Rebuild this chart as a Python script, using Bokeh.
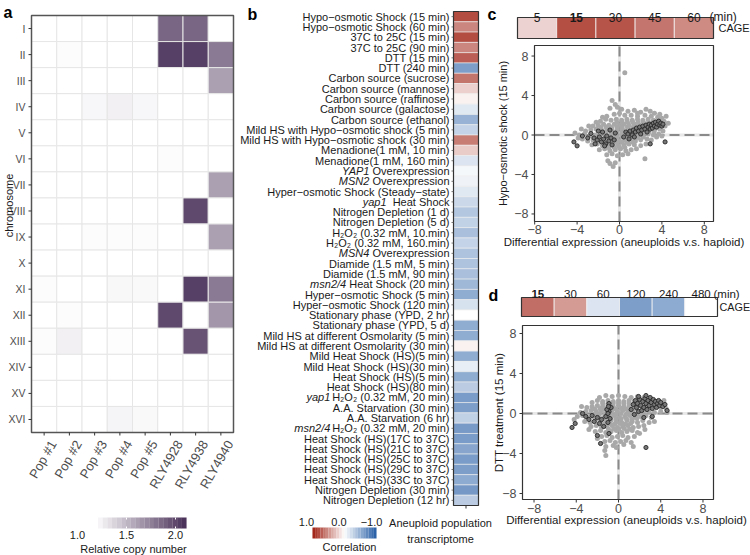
import numpy as np
from bokeh.plotting import figure
from bokeh.models import Range1d, LinearColorMapper, ColumnDataSource
from bokeh.embed import file_html
from bokeh.resources import INLINE
from bokeh.transform import transform
from bokeh.core.properties import value

FONT = "Liberation Sans"
W, H = 750, 555

# ---------------- data: panel a (relative copy number) ----------------
chromosomes = ["I", "II", "III", "IV", "V", "VI", "VII", "VIII", "IX", "X",
               "XI", "XII", "XIII", "XIV", "XV", "XVI"]
strains = ["Pop #1", "Pop #2", "Pop #3", "Pop #4", "Pop #5", "RLY4928", "RLY4938", "RLY4940"]
#             I     II    III   IV    V     VI    VII   VIII  IX    X     XI    XII   XIII  XIV   XV    XVI
cn_pop1    = [1.00, 1.00, 1.00, 1.00, 1.00, 1.00, 1.00, 1.00, 1.00, 1.00, 1.02, 1.00, 1.02, 1.00, 1.00, 1.00]
cn_pop2    = [1.00, 1.02, 1.00, 1.00, 1.00, 1.00, 1.00, 1.00, 1.00, 1.00, 1.00, 1.02, 1.08, 1.00, 1.00, 1.00]
cn_pop3    = [1.00, 1.00, 1.00, 1.05, 1.00, 1.00, 1.00, 1.00, 1.02, 1.00, 1.00, 1.00, 1.00, 1.00, 1.00, 1.00]
cn_pop4    = [1.00, 1.00, 1.00, 1.08, 1.00, 1.00, 1.00, 1.00, 1.02, 1.00, 1.04, 1.00, 1.01, 1.00, 1.00, 1.06]
cn_pop5    = [1.00, 1.00, 1.00, 1.05, 1.00, 1.00, 1.00, 1.00, 1.02, 1.00, 1.03, 1.00, 1.00, 1.00, 1.00, 1.03]
cn_rly4928 = [1.80, 2.00, 1.00, 1.00, 1.00, 1.02, 1.00, 1.00, 1.00, 1.00, 1.00, 1.95, 1.00, 1.00, 1.00, 1.00]
cn_rly4938 = [1.80, 2.00, 1.00, 1.00, 1.00, 1.00, 1.00, 1.95, 1.00, 1.00, 2.00, 1.00, 1.90, 1.00, 1.00, 1.00]
cn_rly4940 = [1.00, 1.70, 1.50, 1.00, 1.00, 1.00, 1.50, 1.00, 1.50, 1.00, 1.70, 1.55, 1.00, 1.00, 1.00, 1.00]
copy_number = [cn_pop1, cn_pop2, cn_pop3, cn_pop4, cn_pop5, cn_rly4928, cn_rly4938, cn_rly4940]
copy_ticks = [1.0, 1.5, 2.0]

# ---------------- data: panel b (correlation with conditions) ----------------
conditions = [
    "Hypo−osmotic Shock (15 min)", "Hypo−osmotic Shock (60 min)", "37C to 25C (15 min)",
    "37C to 25C (90 min)", "DTT (15 min)", "DTT (240 min)", "Carbon source (sucrose)",
    "Carbon source (mannose)", "Carbon source (raffinose)", "Carbon source (galactose)",
    "Carbon source (ethanol)", "Mild HS with Hypo−osmotic shock (5 min)",
    "Mild HS with Hypo−osmotic shock (30 min)", "Menadione(1 mM, 10 min)",
    "Menadione(1 mM, 160 min)", "YAP1 Overexpression", "MSN2 Overexpression",
    "Hyper−osmotic Shock (Steady−state)", "yap1  Heat Shock", "Nitrogen Depletion (1 d)",
    "Nitrogen Depletion (5 d)", "H₂O₂ (0.32 mM, 10.min)", "H₂O₂ (0.32 mM, 160.min)",
    "MSN4 Overexpression", "Diamide (1.5 mM, 5 min)", "Diamide (1.5 mM, 90 min)",
    "msn2/4 Heat Shock (20 min)", "Hyper−osmotic Shock (5 min)", "Hyper−osmotic Shock (120 min)",
    "Stationary phase (YPD, 2 hr)", "Stationary phase (YPD, 5 d)",
    "Mild HS at different Osmolarity (5 min)", "Mild HS at different Osmolarity (30 min)",
    "Mild Heat Shock (HS)(5 min)", "Mild Heat Shock (HS)(30 min)", "Heat Shock (HS)(5 min)",
    "Heat Shock (HS)(80 min)", "yap1 H₂O₂ (0.32 mM, 20 min)", "A.A. Starvation (30 min)",
    "A.A. Starvation (6 hr)", "msn2/4 H₂O₂ (0.32 mM, 20 min)", "Heat Shock (HS)(17C to 37C)",
    "Heat Shock (HS)(21C to 37C)", "Heat Shock (HS)(25C to 37C)", "Heat Shock (HS)(29C to 37C)",
    "Heat Shock (HS)(33C to 37C)", "Nitrogen Depletion (30 min)", "Nitrogen Depletion (12 hr)",
]
italic_part = ["", "", "", "", "", "", "", "", "", "", "", "", "", "", "",
               "YAP1", "MSN2", "", "yap1", "", "", "", "", "MSN4", "", "",
               "msn2/4", "", "", "", "", "", "", "", "", "", "", "yap1", "", "",
               "msn2/4", "", "", "", "", "", "", ""]
correlation = [0.83, 0.56, 0.83, 0.56, 0.74, -0.62, 0.65, 0.22, 0.06, -0.15,
               -0.49, -0.28, 0.61, 0.24, -0.17, -0.05, -0.08, -0.15, -0.25, -0.36,
               -0.29, -0.41, -0.28, -0.38, -0.38, -0.41, -0.45, -0.53, -0.19, 0.00,
               -0.53, -0.53, 0.06, -0.53, -0.11, -0.53, -0.33, -0.63, -0.62, -0.30,
               -0.64, -0.63, -0.57, -0.63, -0.62, -0.54, -0.66, -0.33]
corr_ticks = [1.0, 0.0, -1.0]

# ---------------- data: panels c, d (CAGE strips) ----------------
c_times = ["5", "15", "30", "45", "60"]
c_cage = [0.20, 0.82, 0.80, 0.64, 0.54]
d_times = ["15", "30", "60", "120", "240", "480"]
d_cage = [0.67, 0.47, -0.17, -0.62, -0.54, 0.00]
bold_time = "15"

# ---------------- data: panels c, d (scatter) ----------------
c_light = [
    (0.5, 6.3), (-0.7, 3.5), (-0.4, 3.1), (-0.9, -2.9), (-0.6, -3.2), (-0.4, -2.8), (2.4, -2.4), (-1.1, -2.6),
    (-0.9, 2.7), (0.2, 2.6), (0.8, 2.4), (1.4, 2.5), (2.0, 2.3), (2.9, 2.4), (3.3, 2.2), (2.5, 2.6),
    (-1.2, 1.9), (-0.5, 2.1), (0.0, 2.2), (0.5, 2.0), (1.1, 2.0), (1.7, 1.9), (2.4, 2.0), (3.0, 1.9), (3.6, 1.8), (4.0, 1.7),
    (-1.8, 1.4), (-1.3, 1.6), (-0.8, 1.5), (-0.3, 1.6), (0.2, 1.5), (0.7, 1.6), (1.2, 1.5), (1.7, 1.6), (2.2, 1.5),
    (2.7, 1.6), (3.2, 1.5), (3.7, 1.5), (4.2, 1.4),
    (-2.5, 0.9), (-2.0, 1.0), (-1.5, 1.1), (-1.0, 1.0), (-0.5, 1.1), (0.0, 1.0), (0.4, 1.1), (0.9, 1.0), (1.4, 1.1),
    (1.9, 1.0), (2.4, 1.1), (2.9, 1.0), (3.4, 1.1), (3.9, 1.0), (4.3, 0.9),
    (-3.2, 0.4), (-2.7, 0.5), (-2.2, 0.6), (-1.7, 0.5), (-1.2, 0.6), (-0.7, 0.5), (-0.2, 0.6), (0.3, 0.5), (0.8, 0.6),
    (1.3, 0.5), (1.8, 0.6), (2.3, 0.5), (2.8, 0.6), (3.3, 0.5), (3.8, 0.6), (4.1, 0.4),
    (-3.8, 0.0), (-3.3, 0.1), (-2.8, -0.1), (-2.3, 0.0), (-1.8, 0.1), (-1.3, 0.0), (-0.8, 0.1), (-0.3, 0.0), (0.2, 0.1),
    (0.7, 0.0), (1.2, 0.1), (1.7, -0.1), (2.2, 0.0), (2.7, 0.1), (3.2, 0.0), (3.7, 0.1),
    (-3.5, -0.4), (-3.0, -0.6), (-2.5, -0.5), (-2.0, -0.4), (-1.5, -0.6), (-1.0, -0.5), (-0.5, -0.4), (0.0, -0.6),
    (0.5, -0.5), (1.0, -0.4), (1.5, -0.6), (2.0, -0.5), (2.6, -0.4),
    (-2.6, -1.0), (-2.1, -0.9), (-1.6, -1.1), (-1.1, -1.0), (-0.6, -0.9), (-0.1, -1.1), (0.4, -1.0), (0.9, -0.9),
    (1.4, -1.0), (2.0, -1.1),
    (-1.9, -1.5), (-1.4, -1.4), (-0.9, -1.6), (-0.4, -1.5), (0.1, -1.4), (0.6, -1.6), (1.1, -1.5),
    (-1.2, -2.0), (-0.7, -1.9), (-0.2, -2.1), (0.3, -2.0), (0.8, -1.9),
    (-1.75, 0.25), (-1.25, 0.3), (-0.75, 0.25), (-0.25, 0.3), (0.25, 0.25), (0.75, 0.3), (1.25, 0.25), (1.75, 0.3),
    (2.25, 0.25), (2.75, 0.3), (3.25, 0.25),
    (-1.75, 0.75), (-1.25, 0.8), (-0.75, 0.75), (-0.25, 0.8), (0.25, 0.75), (0.75, 0.8), (1.25, 0.75), (1.75, 0.8),
    (2.25, 0.75), (2.75, 0.8), (3.25, 0.75), (3.75, 0.8),
    (-1.25, -0.25), (-0.75, -0.2), (-0.25, -0.25), (0.25, -0.2), (0.75, -0.25), (1.25, -0.2), (1.75, -0.25), (2.25, -0.2),
    (-1.25, -0.75), (-0.75, -0.7), (-0.25, -0.75), (0.25, -0.7), (0.75, -0.75), (1.25, -0.7),
    (-0.5, -1.25), (0.0, -1.3), (0.5, -1.25), (-1.0, -1.3), (0.25, 1.3), (0.75, 1.3), (1.25, 1.3), (1.75, 1.3),
    (2.25, 1.3), (2.75, 1.3), (3.25, 1.3), (-0.25, 1.3),
    (4.4, 1.9), (3.8, 2.1), (4.6, 1.2), (-3.9, -0.3), (-4.2, 0.2), (-3.6, 0.6), (-2.9, 0.9), (-2.2, 1.3),
    (1.6, -1.4), (2.5, -0.9), (3.0, -0.5), (3.5, -0.2), (4.0, -0.1), (-0.2, 2.8), (1.7, 2.2), (-1.6, 1.8),
]
c_dark = [
    (-4.3, -0.7), (-4.0, -1.1), (-3.5, -0.1), (-3.0, -0.3), (-2.7, 0.15), (-2.4, -0.3), (-2.1, -0.5), (-1.9, -0.2),
    (-1.7, -0.7), (-1.5, -0.4), (-1.3, -0.9), (-1.2, -0.1), (-1.0, -0.6), (-0.8, -0.3), (-0.7, -1.0), (-0.5, -0.5),
    (-1.6, 0.3), (-2.0, 0.4), (-0.9, 0.5), (-0.4, 0.2), (-1.4, -1.1), (-2.3, -0.9),
    (0.4, -0.2), (0.6, 0.3), (0.8, 0.1), (1.0, 0.4), (1.2, 0.0), (1.3, 0.5), (1.5, 0.3), (1.6, 0.7), (1.8, 0.4),
    (1.9, 0.8), (2.1, 0.5), (2.2, 0.9), (2.4, 0.6), (2.5, 1.0), (2.6, 0.3), (2.7, 0.8), (2.8, 1.1), (2.9, 0.6),
    (3.0, 1.0), (3.1, 0.7), (3.2, 1.2), (3.3, 0.9), (3.4, 1.3), (3.5, 0.8), (3.6, 1.1), (3.7, 1.4), (3.8, 1.0),
    (3.9, 1.2), (4.0, 0.9), (4.1, 1.1), (0.9, -0.4), (1.4, -0.2), (2.0, 0.1), (2.9, -0.9), (4.3, -0.7),
]
d_light = [
    (-1.8, 1.6), (-1.2, 1.8), (-0.6, 1.7), (0.0, 1.8), (0.6, 1.7), (1.2, 1.6), (1.8, 1.7), (2.4, 1.6), (3.0, 1.5),
    (-2.5, 1.1), (-2.0, 1.3), (-1.5, 1.2), (-1.0, 1.3), (-0.5, 1.2), (0.0, 1.3), (0.5, 1.2), (1.0, 1.3), (1.5, 1.2),
    (2.0, 1.3), (2.5, 1.2), (3.0, 1.1), (3.6, 1.2), (4.1, 1.0),
    (-3.0, 0.6), (-2.5, 0.7), (-2.0, 0.8), (-1.5, 0.7), (-1.0, 0.8), (-0.5, 0.7), (0.0, 0.8), (0.5, 0.7), (1.0, 0.8),
    (1.5, 0.7), (2.0, 0.8), (2.5, 0.7), (3.0, 0.6), (3.5, 0.7), (4.0, 0.6), (4.5, 0.5),
    (-3.6, 0.1), (-3.1, 0.2), (-2.6, 0.3), (-2.1, 0.2), (-1.6, 0.3), (-1.1, 0.2), (-0.6, 0.3), (-0.1, 0.2), (0.4, 0.3),
    (0.9, 0.2), (1.4, 0.3), (1.9, 0.2), (2.4, 0.3), (2.9, 0.2), (3.4, 0.1), (4.0, 0.2), (4.6, 0.1),
    (-3.9, -0.3), (-3.4, -0.2), (-2.9, -0.4), (-2.4, -0.3), (-1.9, -0.2), (-1.4, -0.4), (-0.9, -0.3), (-0.4, -0.2),
    (0.1, -0.4), (0.6, -0.3), (1.1, -0.2), (1.6, -0.4), (2.1, -0.3), (2.6, -0.2), (3.1, -0.4),
    (-3.2, -0.8), (-2.7, -0.9), (-2.2, -0.7), (-1.7, -0.8), (-1.2, -0.9), (-0.7, -0.7), (-0.2, -0.8), (0.3, -0.9),
    (0.8, -0.7), (1.3, -0.8), (1.8, -0.9), (2.3, -0.7), (2.9, -0.9),
    (-2.6, -1.3), (-2.1, -1.2), (-1.6, -1.4), (-1.1, -1.3), (-0.6, -1.2), (-0.1, -1.4), (0.4, -1.3), (0.9, -1.2),
    (1.4, -1.4), (1.9, -1.3), (2.4, -1.2),
    (-2.2, -1.8), (-1.7, -1.7), (-1.2, -1.9), (-0.7, -1.8), (-0.2, -1.7), (0.3, -1.9), (0.8, -1.8), (1.3, -1.7), (1.8, -1.9),
    (-1.6, -2.3), (-1.1, -2.2), (-0.6, -2.4), (-0.1, -2.3), (0.4, -2.2), (0.9, -2.4), (1.5, -2.3),
    (-1.3, -2.8), (-0.8, -2.7), (-0.3, -2.9), (0.2, -2.8), (0.7, -2.7), (1.2, -2.9),
    (-1.2, -3.3), (-1.3, -3.7), (-1.2, -4.2), (-0.5, -3.2), (-0.2, -3.4), (0.5, -3.1), (1.4, -3.3),
    (-2.25, 0.45), (-1.75, 0.5), (-1.25, 0.45), (-0.75, 0.5), (-0.25, 0.45), (0.25, 0.5), (0.75, 0.45), (1.25, 0.5),
    (1.75, 0.45), (2.25, 0.5), (2.75, 0.45),
    (-2.25, -0.05), (-1.75, 0.0), (-1.25, -0.05), (-0.75, 0.0), (-0.25, -0.05), (0.25, 0.0), (0.75, -0.05), (1.25, 0.0),
    (1.75, -0.05), (2.25, 0.0),
    (-1.75, -0.55), (-1.25, -0.5), (-0.75, -0.55), (-0.25, -0.5), (0.25, -0.55), (0.75, -0.5), (1.25, -0.55), (1.75, -0.5),
    (-1.35, -1.05), (-0.85, -1.0), (-0.35, -1.05), (0.15, -1.0), (0.65, -1.05), (1.15, -1.0),
    (-0.95, -1.55), (-0.45, -1.5), (0.05, -1.55), (0.55, -1.5), (1.05, -1.55),
    (-0.5, 1.0), (0.0, 1.05), (0.5, 1.0), (1.0, 1.05), (1.5, 1.0), (-1.0, 1.0), (-1.5, 1.0),
    (4.3, 1.3), (-3.5, 0.7), (-4.2, -0.6), (2.0, -2.0), (2.5, -1.6), (3.4, -0.8), (-2.8, -1.6), (-2.0, -2.5),
]
d_dark = [
    (1.2, 0.4), (1.4, 0.9), (1.5, -0.1), (1.6, 1.3), (1.7, 0.6), (1.8, 1.0), (1.9, 0.2), (2.0, 1.4), (2.1, 0.8),
    (2.2, 0.3), (2.3, 1.2), (2.4, 0.6), (2.5, 1.5), (2.6, 1.0), (2.7, 0.4), (2.8, 1.3), (2.9, 0.8), (3.0, 1.6),
    (3.1, 1.1), (3.2, 0.5), (3.3, 1.4), (3.4, 0.9), (3.5, 1.2), (3.6, 0.6), (3.7, 1.0), (3.8, 1.3), (3.9, 0.8),
    (4.0, 1.1), (4.2, 0.7), (4.4, 0.9), (4.6, 0.3), (3.2, -0.3), (2.4, -0.4), (1.9, 1.7), (2.6, 1.8),
    (-4.4, -1.4), (-4.1, -1.0), (-3.4, 0.0), (-3.1, -0.3), (-2.8, -0.6), (-2.5, -0.2), (-2.3, -0.8), (-2.0, -0.4),
    (-1.8, -1.0), (-1.6, -0.6), (-1.4, -1.3), (-1.2, -0.3), (-1.0, -0.9), (-0.9, 0.2), (-0.8, -0.5), (-0.7, 0.6),
    (-1.1, 0.4), (-0.9, 1.0), (-0.95, 0.7), (-1.0, 0.0),
    (-2.0, -2.2), (-1.7, -3.0), (-0.9, -2.0), (2.6, -3.4),
]
scatter_ticks = [-8, -4, 0, 4, 8]


# ---------------- helpers ----------------
def ramp(stops, n):
    rgb = [tuple(int(s[i:i + 2], 16) for i in (1, 3, 5)) for s in stops]
    out = []
    for k in range(n):
        t = k / (n - 1) * (len(rgb) - 1)
        i = min(int(t), len(rgb) - 2)
        f = t - i
        c = [round(rgb[i][j] + (rgb[i + 1][j] - rgb[i][j]) * f) for j in range(3)]
        out.append("#%02x%02x%02x" % tuple(c))
    return out


# Liberation Sans (Arial-metric) advance widths, per 1000 em
WID = {' ': 278, '(': 333, ')': 333, ',': 278, '-': 333, '.': 278, '/': 278, '−': 584, '₂': 333,
       'A': 667, 'B': 667, 'C': 722, 'D': 722, 'E': 667, 'F': 611, 'G': 778, 'H': 722, 'I': 278,
       'J': 500, 'K': 667, 'L': 556, 'M': 833, 'N': 722, 'O': 778, 'P': 667, 'Q': 778, 'R': 722,
       'S': 667, 'T': 611, 'U': 722, 'V': 667, 'W': 944, 'X': 667, 'Y': 667, 'Z': 611,
       'a': 556, 'b': 556, 'c': 500, 'd': 556, 'e': 556, 'f': 278, 'g': 556, 'h': 556, 'i': 222,
       'j': 222, 'k': 500, 'l': 222, 'm': 833, 'n': 556, 'o': 556, 'p': 556, 'q': 556, 'r': 333,
       's': 500, 't': 278, 'u': 556, 'v': 500, 'w': 722, 'x': 500, 'y': 500, 'z': 500}


def text_w(s, px):
    return sum(WID.get(ch, 556) for ch in s) * px / 1000.0


class Panel:
    """A named pair of ranges that maps a data box onto a pixel box of the canvas."""
    def __init__(self, name, xd, xp, yd, yp):
        (self.x0, x1), (self.px0, px1) = xd, xp
        (self.y0, y1), (self.py0, py1) = yd, yp
        self.sx = (px1 - self.px0) / (x1 - self.x0)
        self.sy = (self.py0 - py1) / (y1 - self.y0)
        self.name = name
        self.xr = Range1d(start=self.X(0), end=self.X(W))
        self.yr = Range1d(start=self.Y(H), end=self.Y(0))

    def X(self, px):
        return self.x0 + (px - self.px0) / self.sx

    def Y(self, py):
        return self.y0 + (self.py0 - py) / self.sy

    def kw(self):
        return dict(x_range_name=self.name, y_range_name=self.name)


panels = {}
def panel(name, xd, xp, yd, yp):
    panels[name] = Panel(name, xd, xp, yd, yp)
    return panels[name]


pa = panel("a", (0, 8), (31, 233), (0, 16), (432, 15))
pacb = panel("acb", (1.0, 2.0), (77, 175), (0, 1), (528, 517))
pb = panel("b", (0, 1), (453, 478), (0, 48), (505, 11))
pbcb = panel("bcb", (1.0, -1.0), (306, 371), (0, 1), (538, 527))
pcs = panel("cs", (0, 5), (517, 713), (0, 1), (38, 17))
pc = panel("c", (-8, 8), (619 - 8 * 10.6, 619 + 8 * 10.6), (-8, 8), (134.5 + 8 * 9.87, 134.5 - 8 * 9.87))
pds = panel("ds", (0, 6), (521, 717), (0, 1), (316, 297))
pd = panel("d", (-8, 8), (618 - 8 * 10.56, 618 + 8 * 10.56), (-8, 8), (413 + 80, 413 - 80))

p = figure(width=W, height=H, output_backend="svg", toolbar_location=None,
           x_range=Range1d(0, 1), y_range=Range1d(0, 1),
           x_axis_location=None, y_axis_location=None, min_border=0,
           min_border_left=0, min_border_right=0, min_border_top=0, min_border_bottom=0)
p.grid.visible = False
p.outline_line_color = None
p.extra_x_ranges = {k: v.xr for k, v in panels.items()}
p.extra_y_ranges = {k: v.yr for k, v in panels.items()}


def txt(pn, xs, ys, texts, size, color="#1a1a1a", align="left", baseline="middle",
        angle=0.0, style="normal", xoff=0):
    p.text(x=xs, y=ys, text=texts, text_font=value(FONT), text_font_size=value(size),
           text_color=color, text_align=align, text_baseline=baseline, angle=angle,
           text_font_style=value(style), x_offset=xoff, **pn.kw())


def letter(pn, txt_, px, py):
    txt(pn, [pn.X(px)], [pn.Y(py)], [txt_], "16px", "#000000", "left", "alphabetic", style="bold")


purple = ramp(["#ffffff", "#4a3159"], 256)
cmap_a = LinearColorMapper(palette=purple, low=1.0, high=2.08)
rdbu = ramp(["#2c62a8", "#ffffff", "#a3281b"], 257)
TICK = "#333333"
LAB = "#4d4d4d"

# ================= panel a =================
nS, nC = len(strains), len(chromosomes)
src_a = ColumnDataSource(dict(
    x=[i + 0.5 for i in range(nS) for _ in range(nC)],
    y=[nC - 0.5 - j for _ in range(nS) for j in range(nC)],
    cn=[v for col in copy_number for v in col]))
p.rect(x="x", y="y", width=1, height=1, source=src_a, fill_color=transform("cn", cmap_a),
       line_color="#e6e6e6", line_width=1, **pa.kw())
p.quad(left=0, right=nS, bottom=0, top=nC, fill_color=None, line_color="#555555",
       line_width=1.5, **pa.kw())
ya = [nC - 0.5 - j for j in range(nC)]
xa = [i + 0.5 for i in range(nS)]
p.ray(x=[0] * nC, y=ya, length=3, length_units="screen", angle=np.pi,
      line_color=TICK, line_width=1, **pa.kw())
p.ray(x=xa, y=[0] * nS, length=3, length_units="screen", angle=-np.pi / 2,
      line_color=TICK, line_width=1, **pa.kw())
txt(pa, [0] * nC, ya, chromosomes, "10.5px", LAB, "right", "middle", xoff=-6)
txt(pa, xa, [pa.Y(441)] * nS, strains, "13px", LAB, "right", "middle", angle=np.pi / 3, xoff=9)
txt(pa, [pa.X(8)], [pa.Y(205)], ["chromosome"], "11px", "#1a1a1a", "center", "middle", angle=np.pi / 2)
letter(pa, "a", 3, 12)

# colour bar a
nb = 20
b0, b1 = pacb.X(93), pacb.X(186)
bw = (b1 - b0) / nb
p.rect(x=[b0 + bw * (i + 0.5) for i in range(nb)], y=0.5, width=bw * 1.03, height=1,
       fill_color=[purple[int(round(255 * i / (nb - 1) * 0.99))] for i in range(nb)],
       line_color=None, **pacb.kw())
p.ray(x=copy_ticks[1:], y=[0] * 2, length=2, length_units="screen", angle=np.pi / 2,
      line_color="#ffffff", line_width=1, **pacb.kw())
p.ray(x=copy_ticks[1:], y=[1] * 2, length=2, length_units="screen", angle=-np.pi / 2,
      line_color="#ffffff", line_width=1, **pacb.kw())
txt(pacb, copy_ticks, [pacb.Y(534)] * 3, ["%.1f" % t for t in copy_ticks], "11px",
    "#1a1a1a", "center", "middle")
txt(pacb, [pacb.X(133)], [pacb.Y(548)], ["Relative copy number"], "11px", "#1a1a1a", "center", "middle")

# ================= panel b =================
nR = len(conditions)
yb = [nR - 0.5 - i for i in range(nR)]
p.rect(x=[0.5] * nR, y=yb, width=1, height=1, fill_color=[rdbu[int(round((r + 1) * 128))] for r in correlation],
       line_color="#eeeeee", line_width=0.6, **pb.kw())
p.quad(left=0, right=1, bottom=0, top=nR, fill_color=None, line_color="#333333",
       line_width=1.2, **pb.kw())
p.ray(x=[0] * nR, y=yb, length=2, length_units="screen", angle=np.pi,
      line_color="#555555", line_width=0.8, **pb.kw())
p.ray(x=[0.5], y=[0], length=3, length_units="screen", angle=-np.pi / 2,
      line_color=TICK, line_width=1, **pb.kw())
normal_txt = [c[len(it):] for c, it in zip(conditions, italic_part)]
shown_txt = [s.lstrip(" ") for s in normal_txt]
txt(pb, [0] * nR, yb, shown_txt, "11px", "#1a1a1a", "right", "middle", xoff=-4)
ital = [i for i, it in enumerate(italic_part) if it]
txt(pb, [0] * len(ital), [yb[i] for i in ital], [italic_part[i] for i in ital], "11px",
    "#1a1a1a", "right", "middle", style="italic",
    xoff=[-4 - text_w(normal_txt[i], 11) for i in ital])
letter(pb, "b", 247, 14)

# colour bar b
nb2 = 24
c0, c1 = pbcb.X(312), pbcb.X(376)
cw = (c1 - c0) / nb2
p.rect(x=[c0 + cw * (i + 0.5) for i in range(nb2)], y=0.5, width=abs(cw) * 1.03, height=1,
       fill_color=[rdbu[int(round(256 * (1 - i / (nb2 - 1))))] for i in range(nb2)],
       line_color=None, **pbcb.kw())
txt(pbcb, corr_ticks, [pbcb.Y(521)] * 3,
    [("−%.1f" % abs(t)) if t < 0 else "%.1f" % t for t in corr_ticks], "11px", "#1a1a1a", "center", "middle")
txt(pbcb, [pbcb.X(349)], [pbcb.Y(546)], ["Correlation"], "11px", "#1a1a1a", "center", "middle")
txt(pbcb, [pbcb.X(440)] * 2, [pbcb.Y(522), pbcb.Y(538)], ["Aneuploid population", "transcriptome"],
    "11px", "#1a1a1a", "center", "middle")


# ================= strips c, d =================
def strip(pn, times, cage, lab_py, lab_size, min_px, cage_px, cage_size, ltr, lpx, lpy):
    n = len(times)
    xs = [i + 0.5 for i in range(n)]
    p.rect(x=xs, y=0.5, width=1, height=1, fill_color=[rdbu[int(round((r + 1) * 128))] for r in cage],
           line_color="#f2f2f2", line_width=0.8, **pn.kw())
    p.quad(left=0, right=n, bottom=0, top=1, fill_color=None, line_color="#333333",
           line_width=1.2, **pn.kw())
    for sel, style in ((False, "normal"), (True, "bold")):
        idx = [i for i, t in enumerate(times) if (t == bold_time) == sel]
        txt(pn, [xs[i] for i in idx], [pn.Y(lab_py)] * len(idx), [times[i] for i in idx],
            lab_size, "#1a1a1a", "center", "alphabetic", style=style)
    txt(pn, [pn.X(min_px)], [pn.Y(lab_py)], ["(min)"], lab_size, "#1a1a1a", "left", "alphabetic")
    txt(pn, [pn.X(cage_px)], [0.5], ["CAGE"], cage_size, "#1a1a1a", "left", "middle")
    letter(pn, ltr, lpx, lpy)


strip(pcs, c_times, c_cage, 16.5, "12px", 709, 718, "11px", "c", 487, 14)
strip(pds, d_times, d_cage, 293, "11.5px", 713, 719, "10.8px", "d", 488, 295)


# ================= scatters c, d =================
def scatter(pn, light, dark, box, tick_py, ylab_px, xlab_px, xlab_py, ylab, ylab_size):
    xl, xr_, yb_, yt = pn.X(box[0]), pn.X(box[1]), pn.Y(box[2]), pn.Y(box[3])
    p.segment(x0=[0, xl], y0=[yb_, 0], x1=[0, xr_], y1=[yt, 0], line_color="#e8e8e8",
              line_width=3, **pn.kw())
    p.segment(x0=[0, xl], y0=[yb_, 0], x1=[0, xr_], y1=[yt, 0], line_color="#8a8a8a",
              line_width=2, line_dash="10 5", **pn.kw())
    p.scatter(x=[q[0] for q in light], y=[q[1] for q in light], size=5,
              fill_color="#a8a8a8", line_color=None, **pn.kw())
    p.scatter(x=[q[0] for q in dark], y=[q[1] for q in dark], size=4.2,
              fill_color="#767676", line_color="#262626", line_width=0.9, **pn.kw())
    p.quad(left=xl, right=xr_, bottom=yb_, top=yt, fill_color=None, line_color="#333333",
           line_width=1.2, **pn.kw())
    nt = len(scatter_ticks)
    labels = [("−%d" % abs(t)) if t < 0 else "%d" % t for t in scatter_ticks]
    p.ray(x=scatter_ticks, y=[yb_] * nt, length=3, length_units="screen", angle=-np.pi / 2,
          line_color=TICK, line_width=1, **pn.kw())
    p.ray(x=[xl] * nt, y=scatter_ticks, length=3, length_units="screen", angle=np.pi,
          line_color=TICK, line_width=1, **pn.kw())
    txt(pn, scatter_ticks, [pn.Y(tick_py)] * nt, labels, "12.5px", LAB, "center", "middle")
    txt(pn, [xl] * nt, scatter_ticks, labels, "12.5px", LAB, "right", "middle", xoff=-6)
    txt(pn, [pn.X(xlab_px)], [pn.Y(xlab_py)], ["Differential expression (aneuploids v.s. haploid)"],
        "11.5px", "#1a1a1a", "center", "middle")
    txt(pn, [pn.X(ylab_px)], [(yb_ + yt) / 2], [ylab], ylab_size, "#1a1a1a", "center", "middle",
        angle=np.pi / 2)


scatter(pc, c_light, c_dark, (534, 713, 221, 45), 229, 502, 623.5, 241,
        "Hypo−osmotic shock (15 min)", "11px")
scatter(pd, d_light, d_dark, (522, 713, 499, 325), 508, 498, 626, 519,
        "DTT treatment (15 min)", "11.5px")

open("out.html", "w").write(file_html(p, INLINE, title="Aneuploidy transcriptome"))
